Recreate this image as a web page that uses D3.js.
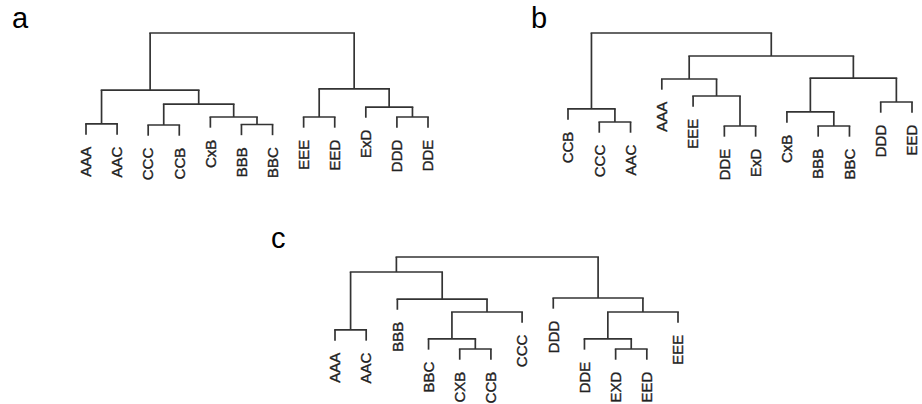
<!DOCTYPE html>
<meta charset="utf-8">
<style>
body { margin: 0; background: #fff; }
.link { fill: none; stroke: #333; stroke-width: 1.7px; }
.leaf { font-family: "Liberation Sans", Arial, sans-serif; font-size: 15px; fill: #222; stroke: #222; stroke-width: 0.35px; }
.tag { font-family: "Liberation Sans", Arial, sans-serif; font-size: 29px; fill: #000; }
</style>
<svg width="922" height="404"></svg>
<script src="https://d3js.org/d3.v7.min.js"></script>
<script>

// leaf order as plotted, left to right
var labelsA = ["AAA", "AAC", "CCC", "CCB", "CxB", "BBB", "BBC", "EEE", "EED", "ExD", "DDD", "DDE"];
var labelsB = ["CCB", "CCC", "AAC", "AAA", "EEE", "DDE", "ExD", "CxB", "BBB", "BBC", "DDD", "EED"];
var labelsC = ["AAA", "AAC", "BBB", "BBC", "CXB", "CCB", "CCC", "DDD", "DDE", "EXD", "EED", "EEE"];

// merges: [left, right, height]; a string is a leaf, a number is an earlier merge row
var mergesA = [
  ["AAA", "AAC", 0.150],
  ["CCC", "CCB", 0.140],
  ["BBB", "BBC", 0.145],
  ["CxB", 2, 0.215],
  [1, 3, 0.336],
  [0, 4, 0.467],
  ["EEE", "EED", 0.215],
  ["DDD", "DDE", 0.215],
  ["ExD", 7, 0.308],
  [6, 8, 0.477],
  [5, 9, 1.000]
];
var mergesB = [
  ["CCC", "AAC", 0.168],
  ["CCB", 0, 0.290],
  ["DDE", "ExD", 0.131],
  ["EEE", 2, 0.411],
  ["AAA", 3, 0.570],
  ["BBB", "BBC", 0.131],
  ["CxB", 5, 0.262],
  ["DDD", "EED", 0.355],
  [6, 7, 0.579],
  [4, 8, 0.785],
  [1, 9, 1.000]
];
var mergesC = [
  ["AAA", "AAC", 0.318],
  ["CXB", "CCB", 0.140],
  ["BBC", 1, 0.234],
  [2, "CCC", 0.486],
  ["BBB", 3, 0.607],
  [0, 4, 0.860],
  ["EXD", "EED", 0.140],
  ["DDE", 6, 0.234],
  [7, "EEE", 0.486],
  ["DDD", 8, 0.617],
  [5, 9, 1.000]
];

var HANG = 0.1;
var svg = d3.select("svg");

function dendro(labels, merges, xRange, yRange, tag, tagPos) {
  var x = d3.scalePoint().domain(labels).range(xRange);
  var y = d3.scaleLinear().domain([0, 1]).range(yRange);
  var g = svg.append("g");

  var pos = merges.map(function() { return null; });
  function xOf(c) { return typeof c === "string" ? x(c) : pos[c]; }

  merges.forEach(function(m, i) {
    var x1 = xOf(m[0]), x2 = xOf(m[1]), h = m[2];
    pos[i] = (x1 + x2) / 2;
    [m[0], m[1]].forEach(function(c, k) {
      var cx = k === 0 ? x1 : x2;
      var bottom = typeof c === "string" ? h - HANG : merges[c][2];
      g.append("line").attr("class", "link")
        .attr("x1", cx).attr("x2", cx)
        .attr("y1", y(h)).attr("y2", y(bottom));
      if (typeof c === "string") {
        g.append("text").attr("class", "leaf")
          .attr("transform", "translate(" + cx + "," + (y(bottom) + 12) + ") rotate(-90)")
          .attr("dy", "0.35em")
          .attr("text-anchor", "end")
          .text(c);
      }
    });
    g.append("line").attr("class", "link")
      .attr("x1", x1 - 0.85).attr("x2", x2 + 0.85)
      .attr("y1", y(h)).attr("y2", y(h));
  });

  svg.append("text").attr("class", "tag")
    .attr("x", tagPos[0]).attr("y", tagPos[1])
    .text(tag);
}

dendro(labelsA, mergesA, [86, 428], [140, 33], "a", [12, 28]);
dendro(labelsB, mergesB, [568, 912], [140, 33], "b", [531, 28]);
dendro(labelsC, mergesC, [335, 678], [364, 257], "c", [271, 248]);

</script>
